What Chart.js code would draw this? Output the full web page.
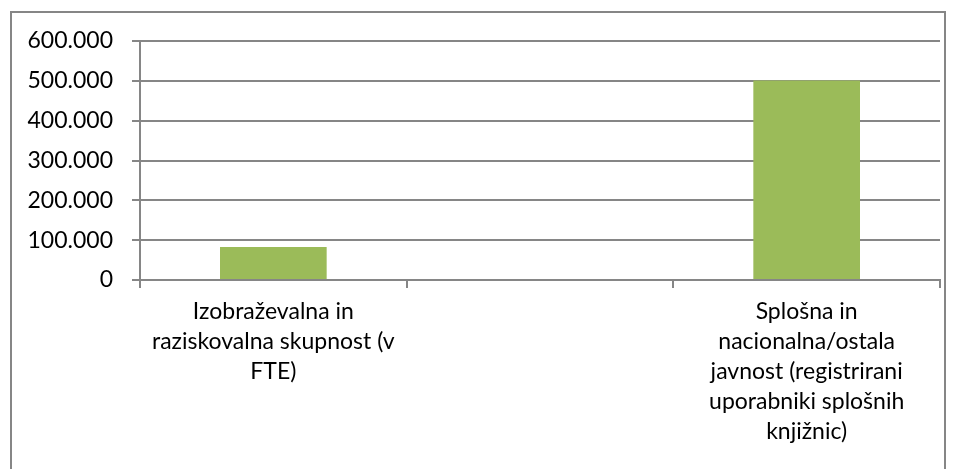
<!DOCTYPE html>
<html>
<head>
<meta charset="utf-8">
<script src="https://cdn.jsdelivr.net/npm/chart.js@4/dist/chart.umd.min.js"></script>
<style>
  html, body { margin: 0; padding: 0; background: #fff; }
  #wrap { position: relative; width: 958px; height: 469px; }
  #frame { position: absolute; left: 10px; top: 11px; width: 936px; height: 470px;
           border: 2px solid #868686; box-sizing: border-box; }
  canvas { position: absolute; left: 0; top: 0; }
</style>
</head>
<body>
<div id="wrap">
  <div id="frame"></div>
  <canvas id="barChart" width="958" height="469"></canvas>
</div>
<script>
var kategorije = [
  ['Izobraževalna in', 'raziskovalna skupnost (v', 'FTE)'],
  '',
  ['Splošna in', 'nacionalna/ostala', 'javnost (registrirani', 'uporabniki splošnih', 'knjižnic)']
];
var vrednosti = [83000, null, 501000];
var oznakeY = [0, 100000, 200000, 300000, 400000, 500000, 600000];

function tisoc(v) {
  return String(v).replace(/\B(?=(\d{3})+(?!\d))/g, '.');
}

var pisavaY = { family: 'Lato, "Open Sans", sans-serif', size: 23 };
var pisavaX = { family: 'Lato, "Open Sans", sans-serif', size: 23, lineHeight: '30px' };

var contextoBarra = document.getElementById('barChart');
var graficoBarra = new Chart(contextoBarra, {
  type: 'bar',
  data: {
    labels: kategorije,
    datasets: [{
      data: vrednosti,
      backgroundColor: '#9BBB59',
      barPercentage: 0.4,
      categoryPercentage: 1
    }]
  },
  options: {
    responsive: false,
    animation: false,
    layout: { padding: { left: 10, top: 41, right: 18, bottom: 0 } },
    scales: {
      x: {
        grid: { offset: true, drawOnChartArea: false, color: '#868686', lineWidth: 2, tickLength: 8 },
        border: { color: '#868686', width: 2 },
        ticks: { color: '#000', font: pisavaX, padding: 9, maxRotation: 0, autoSkip: false },
        afterFit: function (s) { s.height = 189; }
      },
      y: {
        min: 0,
        max: 600000,
        afterBuildTicks: function (s) { s.ticks = oznakeY.map(function (v) { return { value: v }; }); },
        grid: { color: '#868686', lineWidth: 2, tickLength: 8 },
        border: { color: '#868686', width: 2 },
        ticks: { color: '#000', font: pisavaY, padding: 19, callback: function (v) { return tisoc(v); } },
        afterFit: function (s) { s.width = 130; }
      }
    },
    plugins: {
      legend: { display: false },
      tooltip: { enabled: false }
    }
  }
});
</script>
</body>
</html>
